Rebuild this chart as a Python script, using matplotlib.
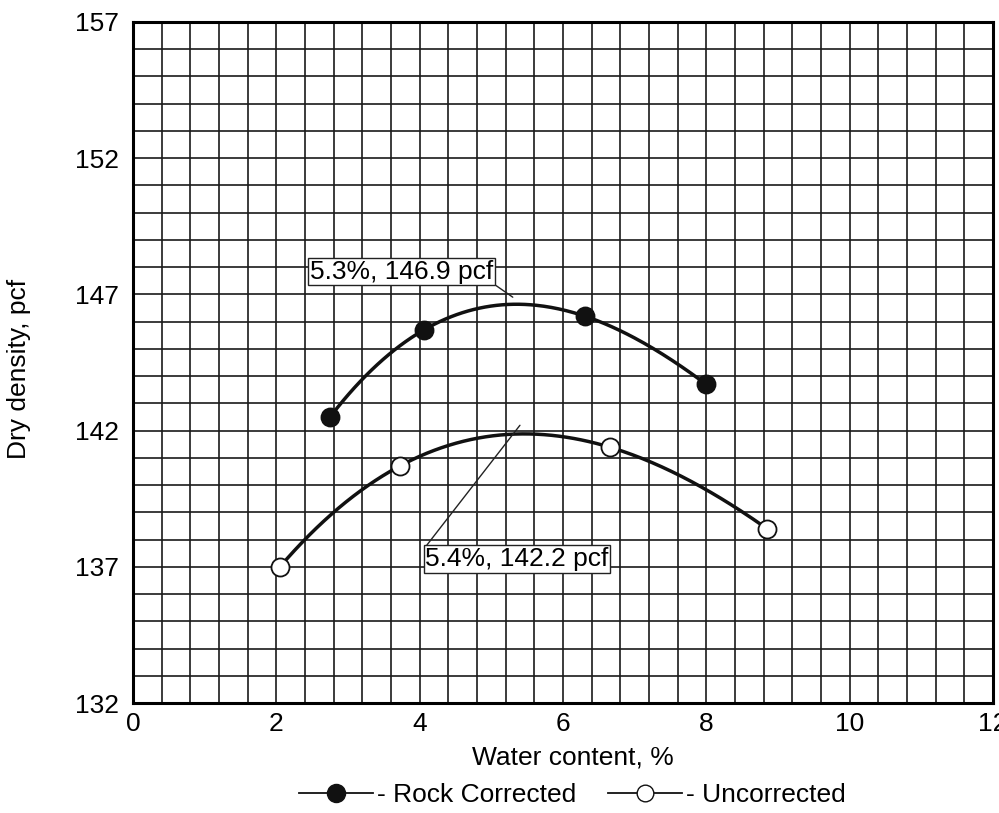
import numpy as np
import matplotlib.pyplot as plt
from matplotlib.lines import Line2D
from matplotlib.ticker import MultipleLocator

plt.rcParams['font.family'] = ['Liberation Sans', 'DejaVu Sans']

# compaction test points (water content %, dry density pcf)
rock_w = [2.75, 4.06, 6.31, 8.0]
rock_d = [142.5, 145.7, 146.2, 143.7]
unc_w = [2.05, 3.72, 6.65, 8.85]
unc_d = [137.0, 140.7, 141.4, 138.4]

# optimum points
rock_opt = (5.3, 146.9)
unc_opt = (5.4, 142.2)
rock_lbl = "5.3%, 146.9 pcf"
unc_lbl = "5.4%, 142.2 pcf"

xticks = [0, 2, 4, 6, 8, 10, 12]
yticks = [132, 137, 142, 147, 152, 157]

fs = 19

fig = plt.figure(figsize=(9.99, 8.13), dpi=100)
ax = fig.add_axes([0.133, 0.135, 0.861, 0.838])

ax.set_xlim(0, 12)
ax.set_ylim(132, 157)
ax.xaxis.set_minor_locator(MultipleLocator(0.4))
ax.yaxis.set_minor_locator(MultipleLocator(1))
ax.set_xticks(xticks)
ax.set_yticks(yticks)
ax.grid(True, which='both', color='#1a1a1a', lw=1.2)
ax.set_axisbelow(True)
ax.tick_params(which='both', length=0, labelsize=fs)
ax.tick_params(axis='x', pad=6)
ax.tick_params(axis='y', pad=10)
for s in ax.spines.values():
    s.set_linewidth(2.2)

def draw(w, d, face):
    coef = np.polyfit(w, d, 3)
    xs = np.linspace(min(w), max(w), 200)
    ax.plot(xs, np.polyval(coef, xs), color='#111111', lw=2.5, zorder=3)
    ax.plot(w, d, 'o', ms=13, mfc=face, mec='#111111', mew=1.3, zorder=4)

draw(rock_w, rock_d, '#111111')
draw(unc_w, unc_d, 'white')

box = dict(boxstyle='square,pad=0.06', fc='white', ec='#222222', lw=1.0)
ax.annotate(rock_lbl, xy=rock_opt, xytext=(2.47, 147.4), fontsize=fs,
            ha='left', va='bottom', bbox=box, zorder=5,
            arrowprops=dict(arrowstyle='-', color='#222222', lw=1.0,
                            relpos=(1, 0), shrinkA=0, shrinkB=0))
ax.annotate(unc_lbl, xy=unc_opt, xytext=(4.08, 136.85), fontsize=fs,
            ha='left', va='bottom', bbox=box, zorder=5,
            arrowprops=dict(arrowstyle='-', color='#222222', lw=1.0,
                            relpos=(0, 1), shrinkA=0, shrinkB=0))

ax.set_xlabel("Water content, %", fontsize=fs)
ax.set_ylabel("Dry density, pcf", fontsize=fs)
ax.xaxis.set_label_coords(0.511, -0.062)
ax.yaxis.set_label_coords(-0.118, 0.49)

handles = [
    Line2D([], [], color='#111111', lw=1.3, marker='o', ms=13, mfc='#111111', mec='#111111'),
    Line2D([], [], color='#111111', lw=1.3, marker='o', ms=12, mfc='white', mec='#111111'),
]
fig.legend(handles, ["- Rock Corrected", "- Uncorrected"], loc='center',
           bbox_to_anchor=(0.573, 0.022), ncol=2, frameon=False, fontsize=fs,
           handlelength=2.8, handletextpad=0.15, columnspacing=1.2,
           borderaxespad=0, borderpad=0)

fig.savefig("out.png", dpi=100, facecolor='white')
